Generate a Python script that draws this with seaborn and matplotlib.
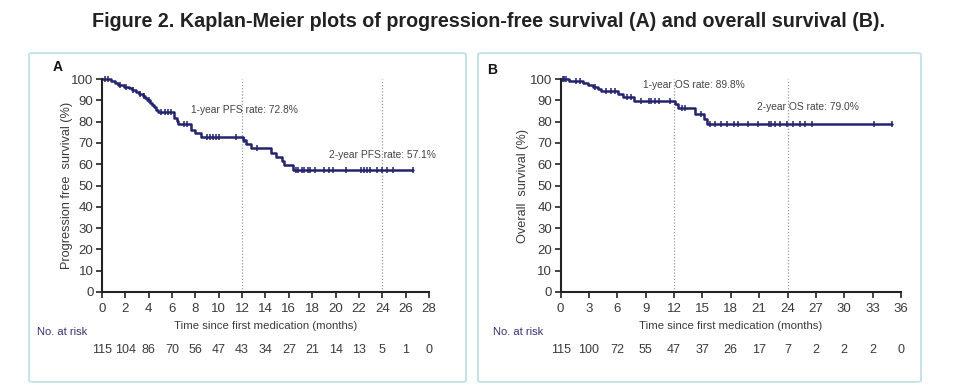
import numpy as np
import matplotlib
matplotlib.use("Agg")
import matplotlib.pyplot as plt
from matplotlib.patches import FancyBboxPatch
import seaborn as sns

# ── Data ──────────────────────────────────────────────────────────────────────
PFS_TIMES = [0.8, 1.1, 1.4, 1.9, 2.3, 2.6, 2.9, 3.2, 3.5, 3.7, 3.9, 4.1, 4.3, 4.5,
             4.6, 4.8, 6.2, 6.4, 6.5, 7.6, 8.0, 8.5, 12.1, 12.3, 12.8, 14.5, 14.9,
             15.4, 15.6, 16.4]
PFS_SURV  = [99.1, 98.2, 97.4, 96.5, 95.6, 94.7, 93.8, 92.9, 92.0, 91.0, 90.0, 88.9,
             87.8, 86.7, 85.6, 84.5, 81.8, 80.4, 79.0, 76.2, 74.6, 72.8, 71.2, 69.6,
             67.5, 65.4, 63.3, 61.5, 59.8, 57.1]
PFS_END   = 26.6
PFS_CENS  = [0.3, 0.5, 1.6, 2.1, 2.7, 3.3, 3.6, 4.0, 5.1, 5.4, 5.7, 5.9, 7.0, 7.3,
             9.0, 9.3, 9.5, 9.8, 10.0, 11.5, 12.2, 13.3, 16.6, 16.8, 17.1, 17.3,
             17.6, 17.8, 18.2, 19.0, 19.4, 19.8, 20.9, 22.2, 22.4, 22.7, 22.95,
             23.5, 23.95, 24.4, 24.95, 26.6]

OS_TIMES = [0.9, 2.4, 2.9, 3.4, 3.9, 4.3, 6.1, 6.6, 7.8, 12.1, 12.4, 14.2, 15.2, 15.5]
OS_SURV  = [99.1, 98.2, 97.3, 96.4, 95.5, 94.6, 93.0, 91.4, 89.8, 88.2, 86.2, 83.6,
            81.4, 79.0]
OS_END   = 35.0
OS_CENS  = [0.2, 0.4, 0.6, 1.6, 2.0, 3.6, 4.8, 5.3, 5.7, 7.0, 7.4, 8.5, 9.3, 9.6,
            10.0, 10.4, 11.6, 12.8, 13.2, 14.8, 15.8, 16.3, 17.0, 17.6, 18.3, 18.8,
            19.8, 20.9, 22.0, 22.3, 22.7, 23.2, 23.9, 24.6, 25.3, 25.8, 26.6, 33.2,
            35.0]

PFS_XTICKS = list(range(0, 29, 2))
PFS_RISK   = [115, 104, 86, 70, 56, 47, 43, 34, 27, 21, 14, 13, 5, 1, 0]
OS_XTICKS  = list(range(0, 37, 3))
OS_RISK    = [115, 100, 72, 55, 47, 37, 26, 17, 7, 2, 2, 2, 0]

YTICKS = list(range(0, 101, 10))

TITLE = "Figure 2. Kaplan-Meier plots of progression-free survival (A) and overall survival (B)."

# ── Style ─────────────────────────────────────────────────────────────────────
sns.set_style("ticks")
plt.rcParams["font.family"] = ["Liberation Sans", "DejaVu Sans"]

NAVY   = "#23236e"
TEXT   = "#3a3a3a"
BORDER = "#c4e4ea"

fig = plt.figure(figsize=(9.6, 3.85), dpi=100)

# panel frames
for x0, x1 in [(29, 466), (478, 921)]:
    fig.patches.append(FancyBboxPatch(
        (x0 / 960, 1 - 382 / 385), (x1 - x0) / 960, (382 - 53) / 385,
        boxstyle="round,pad=0,rounding_size=0.004", transform=fig.transFigure,
        facecolor="none", edgecolor=BORDER, linewidth=1.4))

fig.text(0.509, 0.943, TITLE, ha="center", va="center",
         fontsize=14.2, fontweight="bold", color="#222222")


def km_panel(ax, times, surv, end, cens, xticks, risk, ylabel, notes, letter, lpos, ylx):
    xs = [0] + times + [end]
    ys = [100] + surv + [surv[-1]]
    sns.lineplot(x=xs, y=ys, ax=ax, drawstyle="steps-post", estimator=None,
                 sort=False, color=NAVY, linewidth=1.8, clip_on=False)

    idx = np.searchsorted(np.array([0] + times), np.array(cens), side="right") - 1
    cy = np.array([100] + surv)[idx]
    sns.scatterplot(x=cens, y=cy, ax=ax, marker="|", s=20, color=NAVY,
                    linewidth=1.1, clip_on=False, zorder=4)

    for v in (12, 24):
        ax.plot([v, v], [0, 100], color="#9a9a9a", linestyle=(0, (1, 1.5)),
                linewidth=0.9, zorder=1)

    ax.set_xlim(0, xticks[-1])
    ax.set_ylim(0, 100)
    ax.set_xticks(xticks)
    ax.set_yticks(YTICKS)
    ax.tick_params(labelsize=9.5, colors=TEXT, length=4, width=1.2, pad=2)
    ax.tick_params(axis="x", pad=4)
    ax.tick_params(axis="both", color="#222222")
    for s in ("left", "bottom"):
        ax.spines[s].set_linewidth(1.5)
        ax.spines[s].set_color("#222222")
    sns.despine(ax=ax)

    ax.set_xlabel("Time since first medication (months)", fontsize=8.2,
                  color=TEXT, labelpad=4)
    ax.set_ylabel(ylabel, fontsize=9.2, color=TEXT)
    ax.yaxis.set_label_coords(ylx, 0.5)

    for (tx, ty, txt) in notes:
        ax.text(tx, ty, txt, fontsize=7.4, color="#444444", ha="left", va="center")

    ax.text(-0.198, -0.19, "No. at risk", transform=ax.transAxes, fontsize=8,
            color="#34346e", ha="left", va="center")
    for xt, n in zip(xticks, risk):
        ax.text(xt, -0.272, str(n), transform=ax.get_xaxis_transform(),
                fontsize=9, color=TEXT, ha="center", va="center")

    ax.text(lpos[0], lpos[1], letter, transform=ax.transAxes, fontsize=10,
            fontweight="bold", color="#111111", ha="center", va="center")


axA = fig.add_axes([0.106, 0.2416, 0.341, 0.553])
km_panel(axA, PFS_TIMES, PFS_SURV, PFS_END, PFS_CENS, PFS_XTICKS, PFS_RISK,
         "Progression free  survival (%)",
         [(7.6, 85.4, "1-year PFS rate: 72.8%"), (19.4, 64.3, "2-year PFS rate: 57.1%")],
         "A", (-0.134, 1.056), -0.088)

axB = fig.add_axes([0.584, 0.2416, 0.3545, 0.553])
km_panel(axB, OS_TIMES, OS_SURV, OS_END, OS_CENS, OS_XTICKS, OS_RISK,
         "Overall  survival (%)",
         [(8.7, 97.2, "1-year OS rate: 89.8%"), (20.8, 86.8, "2-year OS rate: 79.0%")],
         "B", (-0.2, 1.042), -0.093)

fig.savefig("out.png", dpi=100)
